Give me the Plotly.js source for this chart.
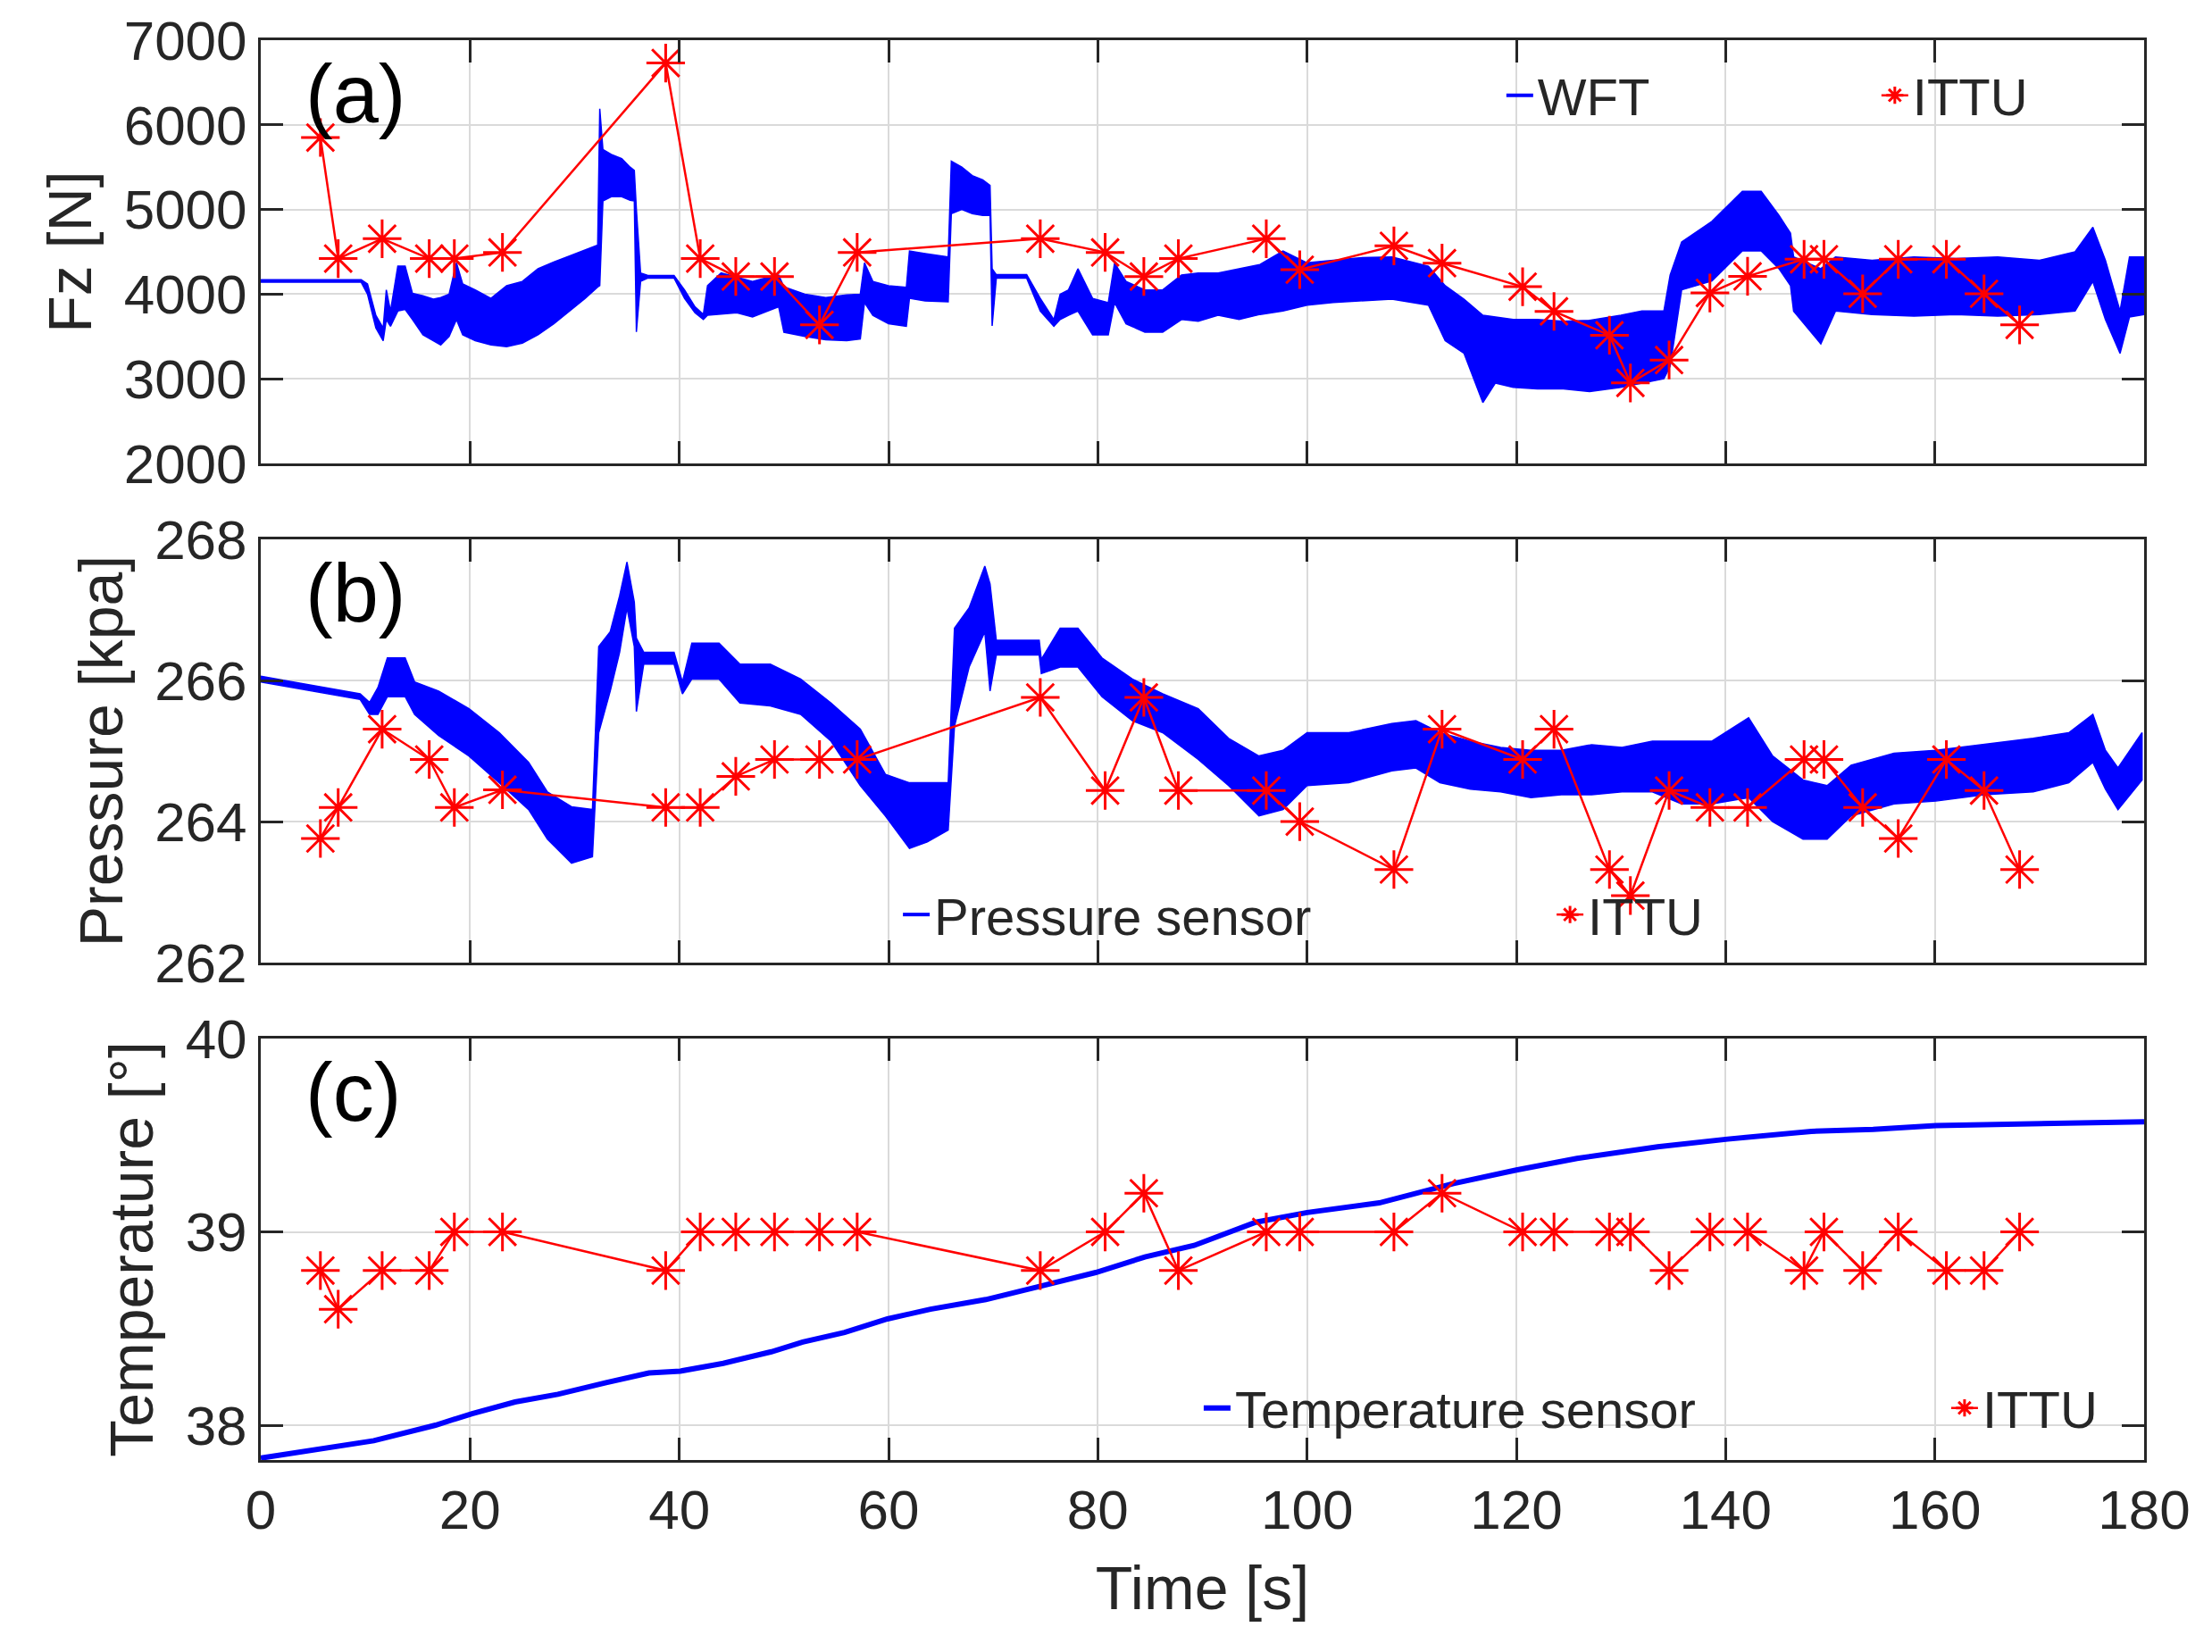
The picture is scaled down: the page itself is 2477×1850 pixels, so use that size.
<!DOCTYPE html>
<html>
<head>
<meta charset="utf-8">
<script src="https://cdn.plot.ly/plotly-3.0.1.min.js"></script>
<style>html,body{margin:0;padding:0;background:#fff;}#chart{width:2477px;height:1850px;}</style>
</head>
<body>
<div id="chart"></div>
<script>
// ---------- ITTU samples (shared time stamps) ----------
const ittuT = [5.7,7.4,11.6,16.1,18.5,23.1,38.7,42.0,45.4,49.1,53.4,57.0,74.5,80.7,84.4,87.7,96.1,99.3,108.3,112.9,120.6,123.6,128.9,130.9,134.6,138.5,142.1,147.5,149.4,153.1,156.5,161.1,164.7,168.1];
const ittuFz = [5850,4420,4655,4420,4420,4493,6730,4420,4208,4208,3637,4493,4655,4493,4208,4420,4655,4289,4570,4366,4088,3796,3514,2951,3222,4014,4211,4412,4412,4004,4412,4412,4004,3637];
const ittuP = [263.76,264.2,265.31,264.88,264.2,264.45,264.2,264.2,264.64,264.88,264.88,264.88,265.76,264.44,265.76,264.44,264.44,264.0,263.32,265.31,264.88,265.31,263.32,262.95,264.44,264.2,264.2,264.88,264.88,264.2,263.76,264.88,264.44,263.32];
const ittuTemp = [38.8,38.6,38.8,38.8,39,39,38.8,39,39,39,39,39,38.8,39,39.2,38.8,39,39,39,39.2,39,39,39,39,38.8,39,39,38.8,39,38.8,39,38.8,38.8,39];

// ---------- WFT force signal: upper / lower envelope of the noisy trace ----------
const wftT  = [0,9.6,10.2,11.0,11.7,12.0,12.4,13.1,13.8,14.5,15.5,16.5,17.2,18.0,18.7,19.3,20.5,22.0,23.5,25.0,26.5,28.0,29.5,31.0,32.2,32.4,32.7,33.5,34.5,35.3,35.7,35.9,36.3,37.0,39.5,40.5,41.5,42.3,42.7,44.0,45.5,47.0,48.5,49.5,50.0,52.0,54.0,56.0,57.3,57.7,58.5,60.0,61.7,62.0,63.5,65.7,66.0,67.0,68.0,69.0,69.7,69.9,70.3,73.2,74.5,75.8,76.4,77.2,78.1,79.5,81.0,81.6,82.7,84.5,86.2,88.0,89.6,91.5,93.5,95.5,97.7,100,102.5,105,108.1,111.6,113.2,115,116.8,118,119.7,122,124.5,127,130,132,134.1,134.7,135.8,138.7,141.6,143.4,145.1,146.2,146.5,149.1,150.5,154,158,162,166,170,173.4,175.1,176.3,177.7,178.6,180];
const wftHi = [4170,4170,4120,3750,3600,4050,3800,4330,4330,4010,3980,3940,3960,4000,4370,4120,4050,3950,4100,4150,4300,4380,4450,4520,4580,6190,5710,5650,5600,5500,5460,5000,4250,4220,4220,4050,3850,3760,4100,4250,4200,4150,4200,4225,4085,4000,3960,3990,4000,4370,4150,4100,4080,4510,4480,4440,5570,5500,5400,5350,5285,4300,4230,4230,3950,3700,4000,4050,4300,3950,3900,4367,4150,4050,4050,4225,4250,4250,4300,4350,4510,4370,4400,4430,4440,4330,4100,3940,3750,3730,3700,3700,3680,3690,3750,3800,3800,4225,4615,4860,5215,5215,4930,4720,4440,4300,4440,4400,4440,4420,4440,4400,4500,4790,4400,3800,4440,4440];
const wftLo = [4140,4140,4000,3600,3450,3700,3620,3800,3820,3700,3520,3450,3400,3500,3700,3520,3450,3400,3380,3420,3520,3650,3800,3950,4085,4100,5100,5150,5150,5110,5100,3554,4150,4190,4190,3950,3780,3700,3750,3760,3780,3730,3800,3850,3550,3500,3460,3450,3470,3900,3750,3650,3620,3950,3920,3910,4950,5000,4950,4930,4930,3625,4190,4190,3800,3620,3700,3750,3800,3520,3520,3900,3650,3550,3550,3700,3680,3750,3700,3760,3800,3870,3900,3920,3940,3870,3450,3300,2720,2950,2900,2880,2880,2850,2900,2950,3000,3150,4050,4155,4510,4510,4300,4100,3800,3413,3800,3760,3740,3760,3740,3760,3800,4150,3700,3300,3730,3760];

// ---------- Pressure sensor: upper / lower envelope ----------
const presT  = [0,9.5,10.4,11.2,12.1,13.8,14.7,17,19.9,22.8,25.6,27.4,29.7,31.7,32.3,33.4,34.3,35,35.7,35.9,36.6,39.5,40.3,41.2,43.8,45.8,48.7,51.6,54.5,57.3,59.7,62,63.7,65.7,66.3,67.7,69.2,69.7,70.3,74.4,74.6,76.4,78.1,80.4,83.3,86.2,89.6,92.5,95.4,97.7,100,104,108.1,110.4,112.7,115.6,118.5,121.4,124.3,127.2,130.1,133,135.8,138.7,142.2,144.5,147.4,149.7,152,156.1,160.1,164.7,169.4,172.8,175.1,176.3,177.5,179.8];
const presHi = [266.06,265.81,265.69,265.9,266.32,266.32,265.98,265.85,265.6,265.26,264.84,264.42,264.21,264.17,266.48,266.69,267.2,267.68,267.11,266.6,266.4,266.4,265.98,266.53,266.53,266.23,266.23,266.02,265.68,265.31,264.67,264.55,264.55,264.55,266.74,267.03,267.62,267.37,266.57,266.57,266.3,266.74,266.74,266.32,266.02,265.81,265.6,265.18,264.93,265.01,265.26,265.26,265.39,265.43,265.26,265.14,265.05,265.01,265.01,265.09,265.05,265.14,265.14,265.14,265.47,264.93,264.59,264.51,264.8,264.97,265.01,265.09,265.18,265.26,265.52,265.01,264.76,265.26];
const presLo = [265.98,265.73,265.52,265.52,265.77,265.77,265.52,265.22,264.93,264.55,264.17,263.75,263.41,263.5,265.26,265.85,266.4,267.03,266.48,265.56,266.23,266.23,265.81,266.02,266.02,265.68,265.64,265.52,265.14,264.51,264.08,263.62,263.71,263.88,265.35,266.19,266.69,265.85,266.36,266.36,266.1,266.19,266.19,265.77,265.43,265.26,264.88,264.51,264.08,264.17,264.51,264.55,264.72,264.76,264.55,264.46,264.42,264.34,264.38,264.38,264.42,264.42,264.25,264.25,264.34,264.0,263.75,263.75,264.08,264.25,264.29,264.38,264.42,264.55,264.84,264.46,264.17,264.59];

// ---------- Temperature sensor ----------
const tempT = [0,5,10.8,16.7,20.2,24.3,28.4,33,37.1,40.1,44.2,48.8,51.8,55.8,59.9,64,69.3,74.6,79.8,84.5,89.2,95.1,100,106.9,114,120,125.8,133.5,140.2,148.2,154.1,160.1,168.8,180];
const tempV = [37.83,37.87,37.92,38.0,38.06,38.12,38.16,38.22,38.27,38.28,38.32,38.38,38.43,38.48,38.55,38.6,38.65,38.72,38.79,38.87,38.93,39.05,39.1,39.15,39.25,39.32,39.38,39.44,39.48,39.52,39.53,39.55,39.56,39.57];

// ---------- labels ----------
const panelLabels = ['(a)','(b)','(c)'];
const yTitles = ['Fz [N]','Pressure [kpa]','Temperature [°]'];
const xTitle = 'Time [s]';
const names = {wft:'WFT', pres:'Pressure sensor', temp:'Temperature sensor', ittu:'ITTU'};

const BLUE = '#0000ff', RED = '#ff0000', INK = '#262626';

function band(t, hi, lo, xa, ya) {
  return {
    x: t.concat(t.slice().reverse()),
    y: hi.concat(lo.slice().reverse()),
    xaxis: xa, yaxis: ya, type: 'scatter', mode: 'lines',
    fill: 'toself', fillcolor: BLUE,
    line: {color: BLUE, width: 1.5},
    showlegend: false, hoverinfo: 'skip'
  };
}
function legendKey(name, legend, w) {
  return {x: [null], y: [null], type: 'scatter', mode: 'lines',
    line: {color: BLUE, width: 4}, name: name, legend: legend, legendwidth: w, showlegend: true};
}
function ittu(y, xa, ya, legend) {
  return {
    x: ittuT, y: y, xaxis: xa, yaxis: ya, type: 'scatter', mode: 'lines+markers',
    line: {color: RED, width: 2.5},
    marker: {symbol: 'asterisk-open', size: 36, color: RED, line: {color: RED, width: 3}},
    name: names.ittu, legend: legend, legendwidth: 135, showlegend: true
  };
}

const traces = [
  band(wftT, wftHi, wftLo, 'x', 'y'),
  legendKey(names.wft, 'legend', 375),
  ittu(ittuFz, 'x', 'y', 'legend'),
  band(presT, presHi, presLo, 'x2', 'y2'),
  legendKey(names.pres, 'legend2', 687),
  ittu(ittuP, 'x2', 'y2', 'legend2'),
  {x: tempT, y: tempV, xaxis: 'x3', yaxis: 'y3', type: 'scatter', mode: 'lines',
   line: {color: BLUE, width: 6}, name: names.temp, legend: 'legend3', legendwidth: 792, showlegend: true},
  ittu(ittuTemp, 'x3', 'y3', 'legend3')
];

const axBase = {
  showline: true, linecolor: INK, linewidth: 3, mirror: 'allticks',
  ticks: 'inside', ticklen: 25, tickwidth: 3, tickcolor: INK,
  showgrid: true, gridcolor: '#dadada', gridwidth: 2, zeroline: false,
  tickfont: {size: 62, color: INK}
};
function xa(anchor, labels) {
  const a = Object.assign({}, axBase, {anchor: anchor, range: [0, 180], dtick: 20, tick0: 0,
    showticklabels: labels, domain: [0, 1], automargin: false});
  if (labels) a.title = {text: xTitle, font: {size: 68, color: INK}, standoff: 30};
  return a;
}
function ya(anchor, dom, range, dtick, title) {
  return Object.assign({}, axBase, {anchor: anchor, domain: dom, range: range, dtick: dtick, automargin: false,
    title: {text: title, font: {size: 68, color: INK}, standoff: 14}});
}

const legBase = {orientation: 'h', xanchor: 'left', yanchor: 'middle', bgcolor: 'rgba(0,0,0,0)',
  borderwidth: 0, font: {size: 58, color: INK}, itemwidth: 30, tracegroupgap: 0};

const layout = {
  width: 2477, height: 1850,
  margin: {l: 292, r: 76, t: 45, b: 215, autoexpand: false},
  paper_bgcolor: '#ffffff', plot_bgcolor: '#ffffff',
  font: {family: 'Liberation Sans, Arial, Helvetica, sans-serif', size: 62, color: INK},
  xaxis: xa('y', false),
  xaxis2: xa('y2', false),
  xaxis3: xa('y3', true),
  yaxis: ya('x', [0.7019, 1.0], [2000, 7000], 1000, yTitles[0]),
  yaxis2: ya('x2', [0.3503, 0.6484], [262, 268], 2, yTitles[1]),
  yaxis3: ya('x3', [0.0, 0.2969], [37.82, 40.0005], 1, yTitles[2]),
  legend: Object.assign({}, legBase, {x: 0.659, y: 0.961}),
  legend2: Object.assign({}, legBase, {x: 0.3386, y: 0.384}),
  legend3: Object.assign({}, legBase, {x: 0.4983, y: 0.0365}),
  annotations: [
    {text: panelLabels[0], xref: 'x domain', yref: 'y domain', x: 0.0228, y: 0.873, xanchor: 'left', yanchor: 'middle', showarrow: false, font: {size: 92, color: '#000'}},
    {text: panelLabels[1], xref: 'x2 domain', yref: 'y2 domain', x: 0.0228, y: 0.873, xanchor: 'left', yanchor: 'middle', showarrow: false, font: {size: 92, color: '#000'}},
    {text: panelLabels[2], xref: 'x3 domain', yref: 'y3 domain', x: 0.0228, y: 0.873, xanchor: 'left', yanchor: 'middle', showarrow: false, font: {size: 92, color: '#000'}}
  ]
};

Plotly.newPlot('chart', traces, layout, {displayModeBar: false, staticPlot: true});
</script>
</body>
</html>
